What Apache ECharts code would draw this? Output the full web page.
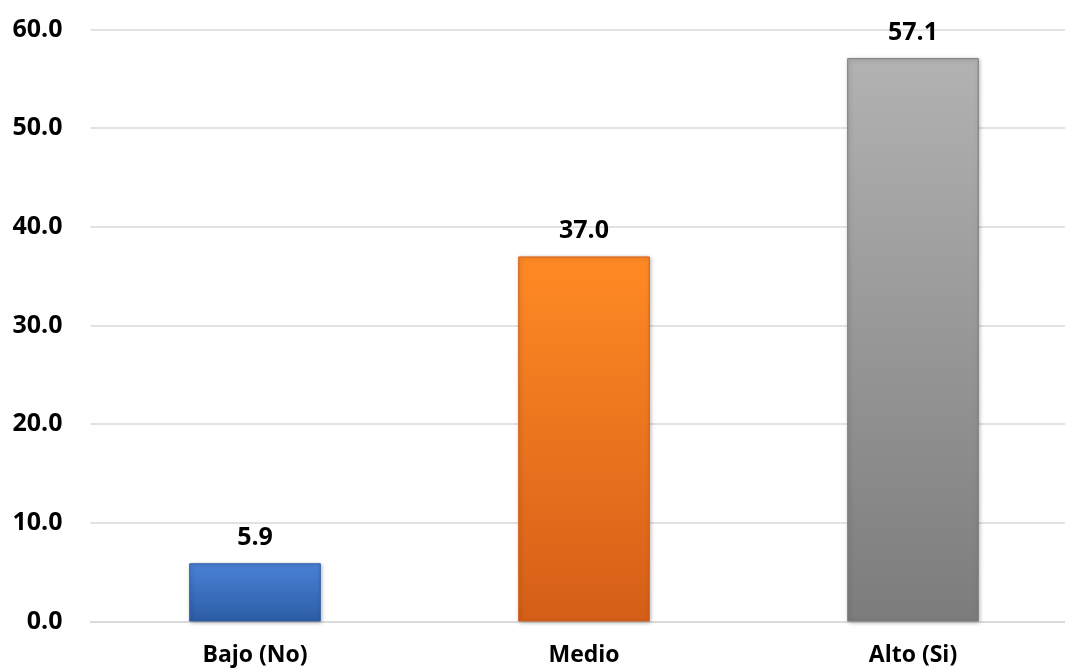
<!DOCTYPE html>
<html><head><meta charset="utf-8">
<script src="https://cdn.jsdelivr.net/npm/echarts@6/dist/echarts.min.js"></script>
<style>html,body{margin:0;padding:0;background:#fff}#c{width:1065px;height:669px}</style>
</head><body><div id="c"></div>
<script>
const categories = ["Bajo (No)", "Medio", "Alto (Si)"];
const values = [5.9, 37.0, 57.1];
const barColors = [
  ["#4a82d6", "#2c5ca6"],
  ["#ff8a24", "#d55e18"],
  ["#b2b2b2", "#7c7c7c"]
];
const yTicks = { min: 0, max: 60, interval: 10 };

const font = "'Open Sans', sans-serif";
const chart = echarts.init(document.getElementById('c'));
chart.setOption({
  animation: false,
  grid: { left: 90.5, top: 29.5, width: 987, height: 592, containLabel: false, outerBoundsMode: 'none' },
  xAxis: {
    type: 'category', data: categories,
    axisLine: { lineStyle: { color: '#d9d9d9', width: 1.5 } },
    axisTick: { show: false },
    axisLabel: { margin: 22, color: '#000', fontFamily: font, fontWeight: 'bold', fontSize: 23 }
  },
  yAxis: {
    type: 'value', min: yTicks.min, max: yTicks.max, interval: yTicks.interval,
    axisLine: { show: false }, axisTick: { show: false },
    splitLine: { lineStyle: { color: '#d9d9d9', width: 1.5 } },
    axisLabel: { margin: 28, color: '#000', fontFamily: font, fontWeight: 'bold', fontSize: 25,
      formatter: v => v.toFixed(1) }
  },
  series: [{
    type: 'bar', barWidth: '40%',
    data: values.map((v, i) => ({
      value: v,
      itemStyle: {
        color: new echarts.graphic.LinearGradient(0, 0, 0, 1, [
          { offset: 0, color: barColors[i][0] },
          { offset: 1, color: barColors[i][1] }
        ]),
        borderColor: barColors[i][1], borderWidth: 1,
        shadowColor: 'rgba(0,0,0,0.3)', shadowBlur: 4, shadowOffsetX: 1, shadowOffsetY: 1
      }
    })),
    label: { show: true, position: 'top', distance: 13, color: '#000', fontFamily: font,
      fontWeight: 'bold', fontSize: 25, formatter: p => p.value.toFixed(1) }
  }]
});
</script></body></html>
